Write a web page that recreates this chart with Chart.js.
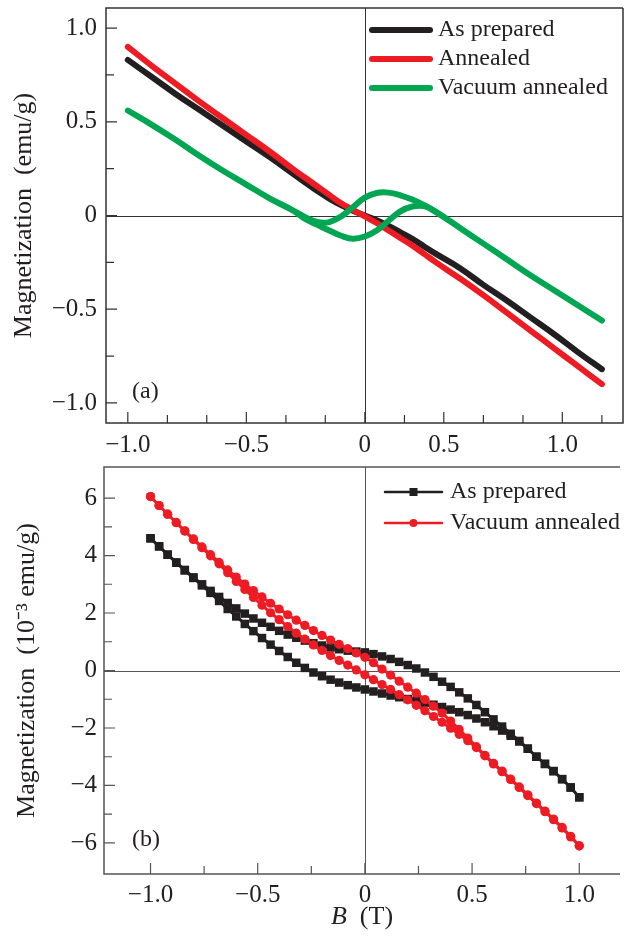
<!DOCTYPE html>
<html>
<head>
<meta charset="utf-8">
<script src="https://cdn.jsdelivr.net/npm/chart.js@4.4.0/dist/chart.umd.min.js"></script>
<style>
  html, body { margin: 0; padding: 0; background: #fff; }
  canvas { display: block; }
</style>
</head>
<body>
<canvas id="panelA" width="626" height="455"></canvas>
<canvas id="panelB" width="626" height="484"></canvas>
<script>
// ---- panel (a): magnetization, emu/g ----
const fieldA = [-1, -0.9, -0.8, -0.7, -0.6, -0.5, -0.4, -0.3, -0.25, -0.2, -0.15, -0.1, -0.05, 0,
  0.05, 0.1, 0.15, 0.2, 0.25, 0.3, 0.4, 0.5, 0.6, 0.7, 0.8, 0.9, 1];
const asPreparedA = [0.83, 0.74, 0.65, 0.565, 0.48, 0.395, 0.31, 0.22, 0.175, 0.13, 0.09, 0.055, 0.025, 0,
  -0.025, -0.055, -0.09, -0.125, -0.165, -0.205, -0.28, -0.37, -0.455, -0.545, -0.635, -0.73, -0.82];
const annealedA = [0.9, 0.8, 0.705, 0.61, 0.52, 0.43, 0.34, 0.245, 0.2, 0.155, 0.11, 0.065, 0.03, -0.005,
  -0.04, -0.08, -0.12, -0.16, -0.205, -0.25, -0.335, -0.425, -0.52, -0.615, -0.71, -0.805, -0.9];
const vacuumUpA = [0.56, 0.485, 0.405, 0.32, 0.24, 0.165, 0.09, 0.025, -0.01, -0.035, -0.035, -0.005, 0.045, 0.095,
  0.12, 0.122, 0.108, 0.085, 0.055, 0.02, -0.065, -0.15, -0.235, -0.32, -0.4, -0.48, -0.56];
const vacuumDownA = [0.56, 0.485, 0.405, 0.32, 0.24, 0.165, 0.09, 0.025, -0.02, -0.05, -0.08, -0.108, -0.124, -0.112,
  -0.08, -0.028, 0.022, 0.048, 0.05, 0.018, -0.065, -0.15, -0.235, -0.32, -0.4, -0.48, -0.56];

// ---- panel (b): magnetization, 10^-3 emu/g ----
const fieldB = [-1, -0.96, -0.92, -0.88, -0.84, -0.8, -0.76, -0.72, -0.68, -0.64, -0.6, -0.56, -0.52,
  -0.48, -0.44, -0.4, -0.36, -0.32, -0.28, -0.24, -0.2, -0.16, -0.12, -0.08, -0.04, 0,
  0.04, 0.08, 0.12, 0.16, 0.2, 0.24, 0.28, 0.32, 0.36, 0.4, 0.44, 0.48, 0.52,
  0.56, 0.6, 0.64, 0.68, 0.72, 0.76, 0.8, 0.84, 0.88, 0.92, 0.96, 1];
const asPreparedUpB = [4.6, 4.32, 4.03, 3.76, 3.5, 3.24, 3.0, 2.77, 2.56, 2.35, 2.16, 1.98, 1.81,
  1.66, 1.52, 1.38, 1.25, 1.14, 1.04, 0.95, 0.87, 0.8, 0.74, 0.69, 0.66, 0.63,
  0.57, 0.49, 0.4, 0.3, 0.19, 0.07, -0.07, -0.22, -0.39, -0.57, -0.76, -0.97, -1.2,
  -1.45, -1.7, -1.95, -2.2, -2.45, -2.72, -3.0, -3.25, -3.5, -3.78, -4.07, -4.41];
const asPreparedDownB = [4.6, 4.32, 4.03, 3.75, 3.48, 3.22, 2.96, 2.7, 2.42, 2.14, 1.88, 1.62, 1.37,
  1.13, 0.9, 0.68, 0.47, 0.27, 0.09, -0.07, -0.2, -0.32, -0.42, -0.51, -0.59, -0.66,
  -0.73, -0.8, -0.87, -0.93, -0.99, -1.05, -1.12, -1.19, -1.27, -1.36, -1.45, -1.55, -1.67,
  -1.8, -1.94, -2.09, -2.27, -2.47, -2.72, -3.0, -3.25, -3.5, -3.78, -4.07, -4.41];
const vacuumUpB = [6.05, 5.74, 5.44, 5.15, 4.86, 4.58, 4.3, 4.03, 3.76, 3.5, 3.25, 3.01, 2.78,
  2.56, 2.34, 2.14, 1.94, 1.75, 1.57, 1.39, 1.22, 1.06, 0.91, 0.76, 0.61, 0.46,
  0.27, 0.05, -0.16, -0.37, -0.58, -0.79, -1.01, -1.24, -1.48, -1.76, -2.05, -2.35, -2.65,
  -2.95, -3.23, -3.5, -3.78, -4.05, -4.33, -4.61, -4.89, -5.17, -5.46, -5.77, -6.1];
const vacuumDownB = [6.05, 5.74, 5.44, 5.14, 4.85, 4.56, 4.27, 3.99, 3.71, 3.4, 3.1, 2.82, 2.54,
  2.27, 2.01, 1.77, 1.53, 1.3, 1.09, 0.89, 0.7, 0.52, 0.35, 0.19, 0.02, -0.15,
  -0.32, -0.49, -0.66, -0.84, -1.02, -1.21, -1.4, -1.6, -1.8, -2.01, -2.22, -2.44, -2.68,
  -2.97, -3.25, -3.52, -3.79, -4.07, -4.35, -4.63, -4.91, -5.19, -5.48, -5.79, -6.1];

// ---- ticks ----
// the original (a) axis has its labels spaced unevenly; ticks sit every 1/6 T
const xTicksA = [-1, -0.833, -0.667, -0.5, -0.333, -0.167, 0, 0.167, 0.333, 0.5, 0.667, 0.833, 1];
const xLabelsA = ['\u22121.0', '', '', '\u22120.5', '', '', '0', '', '0.5', '', '', '1.0', ''];
const yTicksA = [-1, -0.75, -0.5, -0.25, 0, 0.25, 0.5, 0.75, 1];
const yLabelsA = ['\u22121.0', '', '\u22120.5', '', '0', '', '0.5', '', '1.0'];
const xTicksB = [-1, -0.75, -0.5, -0.25, 0, 0.25, 0.5, 0.75, 1];
const xLabelsB = ['\u22121.0', '', '\u22120.5', '', '0', '', '0.5', '', '1.0'];
const yTicksB = [-6, -5, -4, -3, -2, -1, 0, 1, 2, 3, 4, 5, 6];
const yLabelsB = ['\u22126', '', '\u22124', '', '\u22122', '', '0', '', '2', '', '4', '', '6'];

const INK = '#231f20';
const RED = '#ed1c24';
const GREEN = '#00a651';
const SERIF = '"Liberation Serif", "Times New Roman", serif';

Chart.defaults.font.family = SERIF;
Chart.defaults.color = INK;

const pts = (xs, ys) => xs.map((x, i) => ({ x, y: ys[i] }));
const loop = (xs, a, b) => pts(xs, a).concat(pts(xs, b).reverse());

function axis(min, max, ticks, labels, pad, fit) {
  return {
    type: 'linear', min, max,
    afterBuildTicks: s => { s.ticks = ticks.map(v => ({ value: v })); },
    afterFit: s => {
      fit(s);
      s.paddingTop = 0; s.paddingBottom = 0; s.paddingLeft = 0; s.paddingRight = 0;
    },
    grid: { display: false, drawTicks: false },
    border: { display: false },
    ticks: {
      autoSkip: false, maxRotation: 0, padding: pad,
      font: { size: 25 }, color: INK,
      callback: (v, i) => labels[i]
    }
  };
}

// box, zero lines, inward tick marks, panel tag
const frame = {
  id: 'frame',
  beforeDatasetsDraw(chart, args, o) {
    const { ctx, chartArea: a, scales: { x, y } } = chart;
    const x0 = Math.round(x.getPixelForValue(0)) + 0.5;
    const y0 = Math.round(y.getPixelForValue(0)) + 0.5;
    ctx.save();
    ctx.strokeStyle = o.zero;
    ctx.lineWidth = 1;
    ctx.beginPath();
    ctx.moveTo(x0, a.top); ctx.lineTo(x0, a.bottom);
    ctx.moveTo(a.left, y0); ctx.lineTo(a.right, y0);
    ctx.stroke();
    ctx.restore();
  },
  afterDatasetsDraw(chart, args, o) {
    const { ctx, chartArea: a, scales: { x, y } } = chart;
    ctx.save();
    ctx.strokeStyle = o.color;
    ctx.lineWidth = 1.5;
    ctx.beginPath();
    ctx.moveTo(a.right, a.top); ctx.lineTo(a.left, a.top);
    ctx.lineTo(a.left, a.bottom); ctx.lineTo(a.right, a.bottom);
    if (o.right) ctx.lineTo(a.right, a.top);
    ctx.stroke();
    ctx.lineWidth = 1.2;
    ctx.beginPath();
    x.ticks.forEach(t => {
      const px = x.getPixelForValue(t.value);
      const len = t.label ? 11 : 8;
      ctx.moveTo(px, a.bottom); ctx.lineTo(px, a.bottom - len);
    });
    y.ticks.forEach(t => {
      const py = y.getPixelForValue(t.value);
      const len = t.label ? 11 : 8;
      ctx.moveTo(a.left, py); ctx.lineTo(a.left + len, py);
    });
    ctx.stroke();
    ctx.fillStyle = INK;
    ctx.font = '24px ' + SERIF;
    ctx.textBaseline = 'alphabetic';
    ctx.fillText(o.tag, a.left + o.tagDx, a.bottom - o.tagDy);
    ctx.restore();
  }
};

// legend drawn inside the plot, top right
const keyLegend = {
  id: 'keyLegend',
  afterDatasetsDraw(chart, args, o) {
    const ctx = chart.ctx;
    ctx.save();
    ctx.font = '24px ' + SERIF;
    ctx.textBaseline = 'middle';
    chart.data.datasets.forEach((ds, i) => {
      const y = o.y + i * o.dy;
      ctx.strokeStyle = ds.borderColor;
      ctx.lineWidth = o.lineWidth;
      ctx.lineCap = 'round';
      ctx.beginPath();
      ctx.moveTo(o.x, y); ctx.lineTo(o.x + o.len, y);
      ctx.stroke();
      if (o.marker) {
        const cx = o.x + o.len / 2;
        ctx.fillStyle = ds.borderColor;
        ctx.beginPath();
        if (ds.pointStyle === 'rect') {
          ctx.rect(cx - o.marker, y - o.marker, o.marker * 2, o.marker * 2);
        } else {
          ctx.arc(cx, y, o.marker, 0, Math.PI * 2);
        }
        ctx.fill();
      }
      ctx.fillStyle = INK;
      ctx.fillText(ds.label, o.x + o.len + o.gap, y);
    });
    ctx.restore();
  }
};

// "B (T)" with italic B
const fieldTitle = {
  id: 'fieldTitle',
  afterDraw(chart, args, o) {
    if (!o.show) return;
    const { ctx, chartArea: a } = chart;
    ctx.save();
    ctx.fillStyle = INK;
    ctx.textBaseline = 'alphabetic';
    const cx = (a.left + a.right) / 2;
    ctx.font = 'italic 26px ' + SERIF;
    const wB = ctx.measureText('B').width;
    ctx.font = '26px ' + SERIF;
    const rest = '  (T)';
    const wR = ctx.measureText(rest).width;
    const x0 = cx - (wB + wR) / 2;
    ctx.font = 'italic 26px ' + SERIF;
    ctx.fillText('B', x0, o.y);
    ctx.font = '26px ' + SERIF;
    ctx.fillText(rest, x0 + wB, o.y);
    ctx.restore();
  }
};

const lineStyle = color => ({
  borderColor: color, backgroundColor: color, borderWidth: 6,
  pointRadius: 0, tension: 0.4, fill: false,
  borderCapStyle: 'round', borderJoinStyle: 'round'
});

new Chart(document.getElementById('panelA'), {
  type: 'line',
  data: {
    datasets: [
      Object.assign({ label: 'As prepared', data: pts(fieldA, asPreparedA), order: 2 }, lineStyle(INK)),
      Object.assign({ label: 'Annealed', data: pts(fieldA, annealedA), order: 1 }, lineStyle(RED)),
      Object.assign({ label: 'Vacuum annealed', data: loop(fieldA, vacuumUpA, vacuumDownA), order: 0 }, lineStyle(GREEN))
    ]
  },
  options: {
    responsive: false, animation: false, devicePixelRatio: 1,
    layout: { padding: { top: 8, right: 3, bottom: 0, left: 0 } },
    scales: {
      x: axis(-1.092, 1.089, xTicksA, xLabelsA, 7, s => { s.height = 32; }),
      y: Object.assign(axis(-1.107, 1.107, yTicksA, yLabelsA, 9, s => { s.width = 106; }), {
        title: { display: true, text: 'Magnetization  (emu/g)', font: { size: 26 }, color: INK, padding: { top: 9, bottom: 0 } }
      })
    },
    plugins: {
      legend: { display: false },
      tooltip: { enabled: false },
      frame: { color: '#333', zero: '#333', right: true, tag: '(a)', tagDx: 26, tagDy: 25 },
      keyLegend: { x: 372, y: 30, dy: 29, len: 58, gap: 8, lineWidth: 6, marker: 0 },
      fieldTitle: { show: false }
    }
  },
  plugins: [frame, keyLegend, fieldTitle]
});

new Chart(document.getElementById('panelB'), {
  type: 'line',
  data: {
    datasets: [
      {
        label: 'As prepared', data: loop(fieldB, asPreparedDownB, asPreparedUpB), order: 1,
        borderColor: INK, backgroundColor: INK, borderWidth: 3, tension: 0,
        pointStyle: 'rect', pointRadius: 6, pointBorderWidth: 0, pointBackgroundColor: INK
      },
      {
        label: 'Vacuum annealed', data: loop(fieldB, vacuumDownB, vacuumUpB), order: 0,
        borderColor: RED, backgroundColor: RED, borderWidth: 3, tension: 0,
        pointStyle: 'circle', pointRadius: 4.6, pointBorderWidth: 0, pointBackgroundColor: RED
      }
    ]
  },
  options: {
    responsive: false, animation: false, devicePixelRatio: 1,
    layout: { padding: { top: 12, right: 0, bottom: 0, left: 0 } },
    scales: {
      x: axis(-1.217, 1.19, xTicksB, xLabelsB, 6, s => { s.height = 65; }),
      y: Object.assign(axis(-7.08, 7.08, yTicksB, yLabelsB, 7, s => { s.width = 104; }), {
        title: { display: true, text: 'Magnetization  (10\u207B\u00B3 emu/g)', font: { size: 26 }, color: INK, padding: { top: 12, bottom: 0 } }
      })
    },
    plugins: {
      legend: { display: false },
      tooltip: { enabled: false },
      frame: { color: '#555', zero: '#555', right: false, tag: '(b)', tagDx: 28, tagDy: 28 },
      keyLegend: { x: 385, y: 37, dy: 31, len: 57, gap: 8, lineWidth: 2.5, marker: 4 },
      fieldTitle: { show: true, y: 469 }
    }
  },
  plugins: [frame, keyLegend, fieldTitle]
});
</script>
</body>
</html>
